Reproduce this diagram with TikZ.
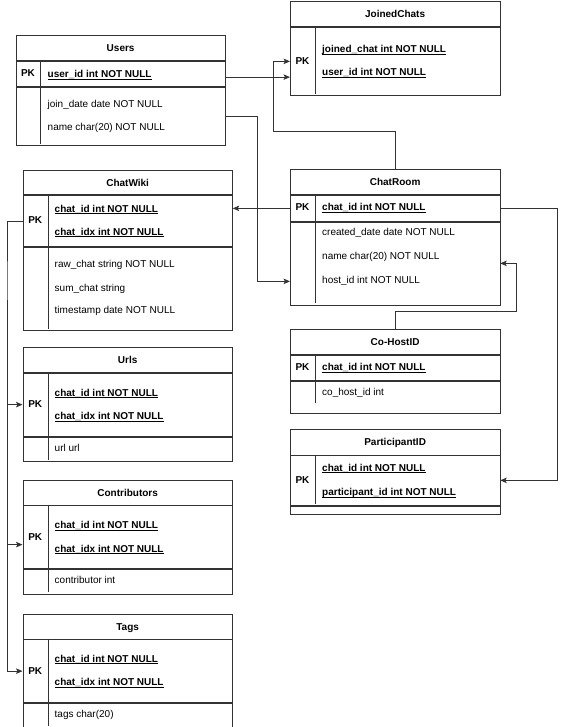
\documentclass[tikz,border=0pt]{standalone}
\usepackage{fontspec}
\setmainfont{Liberation Sans}
\usepackage{tikz}
\usetikzlibrary{arrows.meta}
\definecolor{edge}{HTML}{333333}
\newcommand{\pkul}[1]{\underline{\smash{#1}}}

\begin{document}
\begin{tikzpicture}[x=1pt, y=-1pt, font=\fontsize{10pt}{12pt}\selectfont,
            ln/.style={edge, line width=0.75pt},
            arr/.style={ln, -{Stealth[length=6.5pt, width=5.5pt, inset=1.5pt]}},
            box/.style={draw=edge, line width=0.75pt, anchor=north west, minimum width=209.5pt, inner sep=0pt, text height=7pt, text depth=0pt},
            hdr/.style={box, font=\fontsize{10pt}{12pt}\selectfont\bfseries},
            pk/.style={inner sep=0pt, text height=7pt, text depth=0pt, font=\fontsize{10pt}{12pt}\selectfont\bfseries},
            fld/.style={anchor=west, inner sep=0pt, text height=7pt, text depth=0pt},
            pkf/.style={fld, font=\fontsize{10pt}{12pt}\selectfont\bfseries}]
            \useasboundingbox (0,0) rectangle (567,727);
            % Users
            \node[hdr, minimum height=25pt] (us) at (15.5,35.5) {Users};
            \node[box, minimum height=25pt] (us-pk) at (us.south west) {};
            \node[box, minimum height=58.5pt] (us-bd) at (us-pk.south west) {};
            \draw[ln] (40.5,60.5) -- (40.5,144);
            \node[pk] (us-k) at (28,73) {PK};
            \node[pkf] (us-f1) at (47.5,74.5) {\pkul{user\_id int NOT NULL}};
            \node[fld] (us-f2) at (47.5,104) {join\_date date NOT NULL};
            \node[fld] (us-f3) at (47.5,127) {name char(20) NOT NULL};
            % JoinedChats
            \node[hdr, minimum height=25pt] (jc) at (290,1.5) {JoinedChats};
            \node[box, minimum height=67.5pt] (jc-pk) at (jc.south west) {};
            \draw[ln] (315,26.5) -- (315,94);
            \node[pk] (jc-k) at (302.5,61) {PK};
            \node[pkf] (jc-f1) at (322,49.5) {\pkul{joined\_chat int NOT NULL}};
            \node[pkf] (jc-f2) at (322,72.5) {\pkul{user\_id int NOT NULL}};
            % ChatWiki
            \node[hdr, minimum height=24.5pt] (cw) at (22.5,170) {ChatWiki};
            \node[box, minimum height=50.5pt] (cw-pk) at (cw.south west) {};
            \node[box, minimum height=83.5pt] (cw-bd) at (cw-pk.south west) {};
            \draw[ln] (48,194.5) -- (48,328.5);
            \node[pk] (cw-k) at (35.25,219.5) {PK};
            \node[pkf] (cw-f1) at (54.5,208.5) {\pkul{chat\_id int NOT NULL}};
            \node[pkf] (cw-f2) at (54.5,231.5) {\pkul{chat\_idx int NOT NULL}};
            \node[fld] (cw-f3) at (54.5,264) {raw\_chat string NOT NULL};
            \node[fld] (cw-f4) at (54.5,287.5) {sum\_chat string};
            \node[fld] (cw-f5) at (54.5,310) {timestamp date NOT NULL};
            % Urls
            \node[hdr, minimum height=25pt] (ur) at (22.5,347) {Urls};
            \node[box, minimum height=63pt] (ur-pk) at (ur.south west) {};
            \node[box, minimum height=24.5pt] (ur-bd) at (ur-pk.south west) {};
            \draw[ln] (48,372) -- (48,459.5);
            \node[pk] (ur-k) at (35.25,404) {PK};
            \node[pkf] (ur-f1) at (54.5,392.5) {\pkul{chat\_id int NOT NULL}};
            \node[pkf] (ur-f2) at (54.5,416) {\pkul{chat\_idx int NOT NULL}};
            \node[fld] (ur-f3) at (54.5,447.5) {url url};
            % Contributors
            \node[hdr, minimum height=24.5pt] (co) at (22.5,480) {Contributors};
            \node[box, minimum height=63pt] (co-pk) at (co.south west) {};
            \node[box, minimum height=24.5pt] (co-bd) at (co-pk.south west) {};
            \draw[ln] (48,504.5) -- (48,592);
            \node[pk] (co-k) at (35.25,536.5) {PK};
            \node[pkf] (co-f1) at (54.5,525) {\pkul{chat\_id int NOT NULL}};
            \node[pkf] (co-f2) at (54.5,548.5) {\pkul{chat\_idx int NOT NULL}};
            \node[fld] (co-f3) at (54.5,580) {contributor int};
            % Tags
            \node[hdr, minimum height=24.5pt] (tg) at (22.5,614) {Tags};
            \node[box, minimum height=63pt] (tg-pk) at (tg.south west) {};
            \node[box, minimum height=24.5pt] (tg-bd) at (tg-pk.south west) {};
            \draw[ln] (48,638.5) -- (48,726);
            \node[pk] (tg-k) at (35.25,670.5) {PK};
            \node[pkf] (tg-f1) at (54.5,658.5) {\pkul{chat\_id int NOT NULL}};
            \node[pkf] (tg-f2) at (54.5,682) {\pkul{chat\_idx int NOT NULL}};
            \node[fld] (tg-f3) at (54.5,714) {tags char(20)};
            % ChatRoom
            \node[hdr, minimum height=25pt] (cr) at (290,169.5) {ChatRoom};
            \node[box, minimum height=25.5pt] (cr-pk) at (cr.south west) {};
            \node[box, minimum height=83pt] (cr-bd) at (cr-pk.south west) {};
            \draw[ln] (315,194.5) -- (315,303);
            \node[pk] (cr-k) at (302.5,207.25) {PK};
            \node[pkf] (cr-f1) at (322,207.5) {\pkul{chat\_id int NOT NULL}};
            \node[fld] (cr-f2) at (322,232.5) {created\_date date NOT NULL};
            \node[fld] (cr-f3) at (322,256) {name char(20) NOT NULL};
            \node[fld] (cr-f4) at (322,279.5) {host\_id int NOT NULL};
            % Co-HostID
            \node[hdr, minimum height=25pt] (ch) at (290,329) {Co-HostID};
            \node[box, minimum height=25.5pt] (ch-pk) at (ch.south west) {};
            \node[box, minimum height=32pt] (ch-bd) at (ch-pk.south west) {};
            \draw[ln] (315,354) -- (315,403);
            \node[pk] (ch-k) at (302.5,366.75) {PK};
            \node[pkf] (ch-f1) at (322,367) {\pkul{chat\_id int NOT NULL}};
            \node[fld] (ch-f2) at (322,391.5) {co\_host\_id int};
            % ParticipantID
            \node[hdr, minimum height=25.5pt] (pa) at (290,429) {ParticipantID};
            \node[box, minimum height=49.5pt] (pa-pk) at (pa.south west) {};
            \node[box, minimum height=8.5pt] (pa-bd) at (pa-pk.south west) {};
            \draw[ln] (315,454.5) -- (315,504);
            \node[pk] (pa-k) at (302.5,479.5) {PK};
            \node[pkf] (pa-f1) at (322,467.5) {\pkul{chat\_id int NOT NULL}};
            \node[pkf] (pa-f2) at (322,492) {\pkul{participant\_id int NOT NULL}};
            % bends
            \coordinate (j2) at (273.5,131);
            \coordinate (j3) at (257.5,200);
            \coordinate (rl) at (7,300);
            \coordinate (j6) at (516,311.5);
            \coordinate (j7) at (557.5,300);
            % links
            \draw[arr] ([yshift=-3pt]us-pk.east) -- ([yshift=-3pt]us-pk.east -| jc-pk.west);
            \draw[arr] (cr.north) |- (j2) |- (jc-pk.west);
            \draw[arr] (us-bd.east) -| (j3) |- ([yshift=-18pt]cr-bd.west);
            \draw[arr] (cr-pk.west) -- (cr-pk.west -| cw.east);
            \draw[arr] (cw-pk.west) -| (rl) |- (ur-pk.west);
            \draw[arr] (rl) |- ([yshift=-7.5pt]co-pk.west);
            \draw[arr] (rl) |- (tg-pk.west);
            \draw[arr] (ch.north) |- (j6) |- (cr-bd.east);
            \draw[arr] (cr-pk.east) -| (j7) |- (pa-pk.east);
        \end{tikzpicture}
\end{document}
